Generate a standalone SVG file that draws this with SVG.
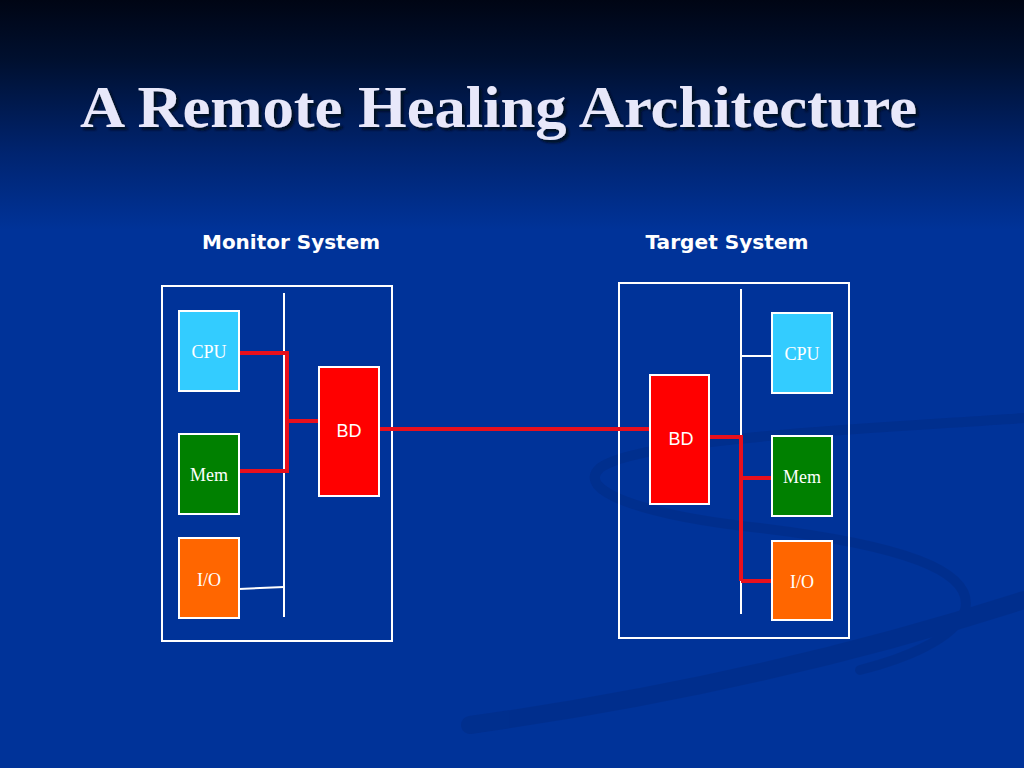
<svg xmlns="http://www.w3.org/2000/svg" width="1024" height="768" viewBox="0 0 1024 768">
<defs>
<linearGradient id="bg" x1="0" y1="0" x2="0" y2="1">
<stop offset="0" stop-color="#000514"/>
<stop offset="0.08" stop-color="#001030"/>
<stop offset="0.2" stop-color="#002470"/>
<stop offset="0.3" stop-color="#003399"/>
<stop offset="1" stop-color="#003399"/>
</linearGradient>
<filter id="shadow" x="-5%" y="-20%" width="110%" height="150%">
<feDropShadow dx="3" dy="3" stdDeviation="1" flood-color="#05081c" flood-opacity="0.9"/>
</filter>
<style>
.frame{fill:none;stroke:#ffffff;stroke-width:2}
.bus{stroke:#ffffff;stroke-width:2;fill:none}
.red{stroke:#e8101c;stroke-width:4;fill:none}
.box{stroke:#ffffff;stroke-width:2}
.ser{font-family:"Liberation Serif","Times New Roman",serif;font-size:18px;fill:#ffffff;text-anchor:middle}
.san{font-family:"Liberation Sans",Arial,sans-serif;font-size:18px;fill:#ffffff;text-anchor:middle}
.hdr{font-family:"DejaVu Sans",Verdana,sans-serif;font-weight:bold;font-size:19px;fill:#ffffff;text-anchor:middle}
.title{font-family:"Liberation Serif","Times New Roman",serif;font-weight:bold;font-size:60px;fill:#e8e8fa}
.sw{fill:none;stroke:#002a80;stroke-linecap:round}
</style>
</defs>
<rect x="0" y="0" width="1024" height="768" fill="url(#bg)"/>
<g id="swoosh" opacity="0.45">
<path class="sw" stroke-width="10" d="M1024 418 C880 428 640 438 600 468 C575 490 640 515 760 528 C900 545 975 570 965 610 C955 640 900 660 860 670"/>
<path class="sw" stroke-width="18" d="M1024 600 C900 640 720 690 470 725"/>
</g>
<g id="title">
<text class="title" x="80" y="127" textLength="837" lengthAdjust="spacingAndGlyphs" filter="url(#shadow)">A Remote Healing Architecture</text>
</g>
<g id="monitor-system">
<text class="hdr" x="291" y="249" textLength="178" lengthAdjust="spacingAndGlyphs">Monitor System</text>
<rect class="frame" x="162" y="286" width="230" height="355"/>
<line class="bus" x1="284" y1="293" x2="284" y2="617"/>
</g>
<g id="target-system">
<text class="hdr" x="727" y="249" textLength="163" lengthAdjust="spacingAndGlyphs">Target System</text>
<rect class="frame" x="619" y="283" width="230" height="355"/>
<line class="bus" x1="741" y1="289" x2="741" y2="614"/>
</g>
<g id="connectors">
<path class="red" d="M239 353 H287 V471 H239"/>
<path class="red" d="M287 421 H319"/>
<path class="red" d="M379 429 H650"/>
<line class="bus" x1="239" y1="589" x2="284" y2="587"/>
<line class="bus" x1="741" y1="356" x2="772" y2="356"/>
<path class="red" d="M709 437 H741 V581"/>
<path class="red" d="M741 478 H772"/>
<path class="red" d="M741 581 H772"/>
</g>
<g id="m-cpu"><rect class="box" x="179" y="311" width="60" height="80" fill="#33ccff"/><text class="ser" x="209" y="358">CPU</text></g>
<g id="m-mem"><rect class="box" x="179" y="434" width="60" height="80" fill="#008000"/><text class="ser" x="209" y="481">Mem</text></g>
<g id="m-io"><rect class="box" x="179" y="538" width="60" height="80" fill="#ff6600"/><text class="ser" x="209" y="586">I/O</text></g>
<g id="m-bd"><rect class="box" x="319" y="367" width="60" height="129" fill="#ff0000"/><text class="san" x="349" y="437">BD</text></g>
<g id="t-cpu"><rect class="box" x="772" y="313" width="60" height="80" fill="#33ccff"/><text class="ser" x="802" y="360">CPU</text></g>
<g id="t-mem"><rect class="box" x="772" y="436" width="60" height="80" fill="#008000"/><text class="ser" x="802" y="483">Mem</text></g>
<g id="t-io"><rect class="box" x="772" y="541" width="60" height="79" fill="#ff6600"/><text class="ser" x="802" y="588">I/O</text></g>
<g id="t-bd"><rect class="box" x="650" y="375" width="59" height="129" fill="#ff0000"/><text class="san" x="681" y="445">BD</text></g>
</svg>
